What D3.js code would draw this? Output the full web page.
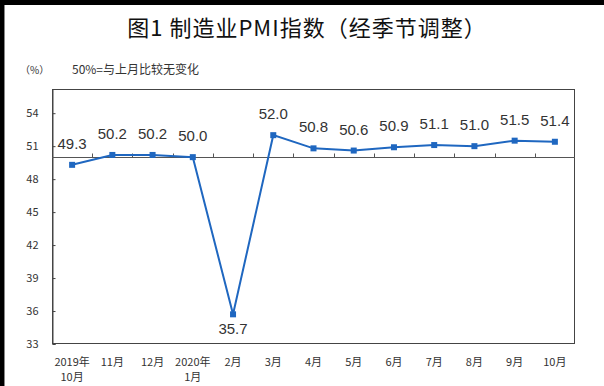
<!DOCTYPE html>
<html>
<head>
<meta charset="utf-8">
<script src="https://cdn.jsdelivr.net/npm/d3@7"></script>
<style>
  body { margin: 0; background: #fff; }
  svg { display: block; }
</style>
</head>
<body>
<script>
const months = ["2019年\n10月", "11月", "12月", "2020年\n1月", "2月", "3月", "4月", "5月", "6月", "7月", "8月", "9月", "10月"];
const pmi = [49.3, 50.2, 50.2, 50.0, 35.7, 52.0, 50.8, 50.6, 50.9, 51.1, 51.0, 51.5, 51.4];
const yTicks = [33, 36, 39, 42, 45, 48, 51, 54];

const w = 604;
const h = 386;
const padL = 52, padR = 575, padT = 89, padB = 344;

const svg = d3.select("body").append("svg")
  .attr("width", w)
  .attr("height", h);

// black scan border
svg.append("rect").attr("x", 0).attr("y", 0).attr("width", w).attr("height", 5).attr("fill", "#000");
svg.append("rect").attr("x", 0).attr("y", 0).attr("width", 4).attr("height", h).attr("fill", "#000");
svg.append("line").attr("x1", 4.5).attr("x2", 4.5).attr("y1", 5).attr("y2", h)
  .attr("stroke", "#888").attr("stroke-width", 1);

svg.append("text")
  .attr("x", 307)
  .attr("y", 36)
  .attr("text-anchor", "middle")
  .attr("font-family", "Noto Sans CJK SC")
  .attr("font-size", 22)
  .attr("letter-spacing", 1)
  .attr("fill", "#111")
  .text("图1 制造业PMI指数（经季节调整）");

svg.append("text")
  .attr("x", 20).attr("y", 74)
  .attr("font-family", "Noto Sans CJK SC")
  .attr("font-size", 10)
  .attr("fill", "#333")
  .text("（%）");
svg.append("text")
  .attr("x", 72).attr("y", 74)
  .attr("font-family", "Noto Sans CJK SC")
  .attr("font-size", 12)
  .attr("fill", "#333")
  .text("50%=与上月比较无变化");

const xScale = d3.scaleBand()
  .domain(months)
  .range([padL, padR]);

const yScale = d3.scaleLinear()
  .domain([33, 56.2])
  .range([padB, padT]);

// plot frame
svg.append("rect")
  .attr("x", padL + 0.5).attr("y", padT + 0.5)
  .attr("width", padR - padL - 1).attr("height", padB - padT - 1)
  .attr("fill", "none")
  .attr("stroke", "#444");

// y axis, ticks inward
const yAxis = d3.axisRight(yScale).tickValues(yTicks).tickSize(3).tickFormat(d3.format("d"));
const yg = svg.append("g")
  .attr("transform", "translate(" + (padL + 0.5) + ",0)")
  .call(yAxis);
yg.select(".domain").attr("stroke", "#444");
yg.selectAll(".tick line").attr("stroke", "#444");
yg.selectAll(".tick text")
  .attr("x", -14)
  .attr("text-anchor", "end")
  .attr("font-family", "Noto Sans CJK SC")
  .attr("font-size", 11)
  .attr("fill", "#333");

// 50 line with ticks at category boundaries
const y50 = Math.round(yScale(50)) + 0.5;
svg.append("line")
  .attr("x1", padL).attr("x2", padR)
  .attr("y1", y50).attr("y2", y50)
  .attr("stroke", "#555");
svg.selectAll(".btick")
  .data(months.slice(1))
  .enter()
  .append("line")
  .attr("class", "btick")
  .attr("x1", (d) => Math.round(xScale(d)) + 0.5)
  .attr("x2", (d) => Math.round(xScale(d)) + 0.5)
  .attr("y1", y50)
  .attr("y2", y50 - 4)
  .attr("stroke", "#555");

// category labels under the frame
const xl = svg.selectAll(".xlab")
  .data(months)
  .enter()
  .append("text")
  .attr("class", "xlab")
  .attr("text-anchor", "middle")
  .attr("font-family", "Noto Sans CJK SC")
  .attr("font-size", 11)
  .attr("fill", "#333");
xl.each(function (d) {
  const parts = d.split("\n");
  const cx = xScale(d) + xScale.bandwidth() / 2;
  parts.forEach((p, i) => {
    d3.select(this).append("tspan")
      .attr("x", cx)
      .attr("y", 366 + i * 15)
      .text(p);
  });
});

// line
const line = d3.line()
  .x((d, i) => xScale(months[i]) + xScale.bandwidth() / 2)
  .y((d) => yScale(d));

svg.append("path")
  .datum(pmi)
  .attr("d", line)
  .attr("fill", "none")
  .attr("stroke", "#1f67c0")
  .attr("stroke-width", 2);

svg.selectAll(".pt")
  .data(pmi)
  .enter()
  .append("rect")
  .attr("class", "pt")
  .attr("x", (d, i) => xScale(months[i]) + xScale.bandwidth() / 2 - 3)
  .attr("y", (d) => yScale(d) - 3)
  .attr("width", 6)
  .attr("height", 6)
  .attr("fill", "#1f67c0");

svg.selectAll(".vlab")
  .data(pmi)
  .enter()
  .append("text")
  .attr("class", "vlab")
  .attr("x", (d, i) => xScale(months[i]) + xScale.bandwidth() / 2)
  .attr("y", (d) => (d < 40 ? yScale(d) + 20 : yScale(d) - 16))
  .attr("text-anchor", "middle")
  .attr("font-family", "Liberation Sans, Arial, sans-serif")
  .attr("font-size", 15)
  .attr("fill", "#333")
  .text((d) => d.toFixed(1));
</script>
</body>
</html>
